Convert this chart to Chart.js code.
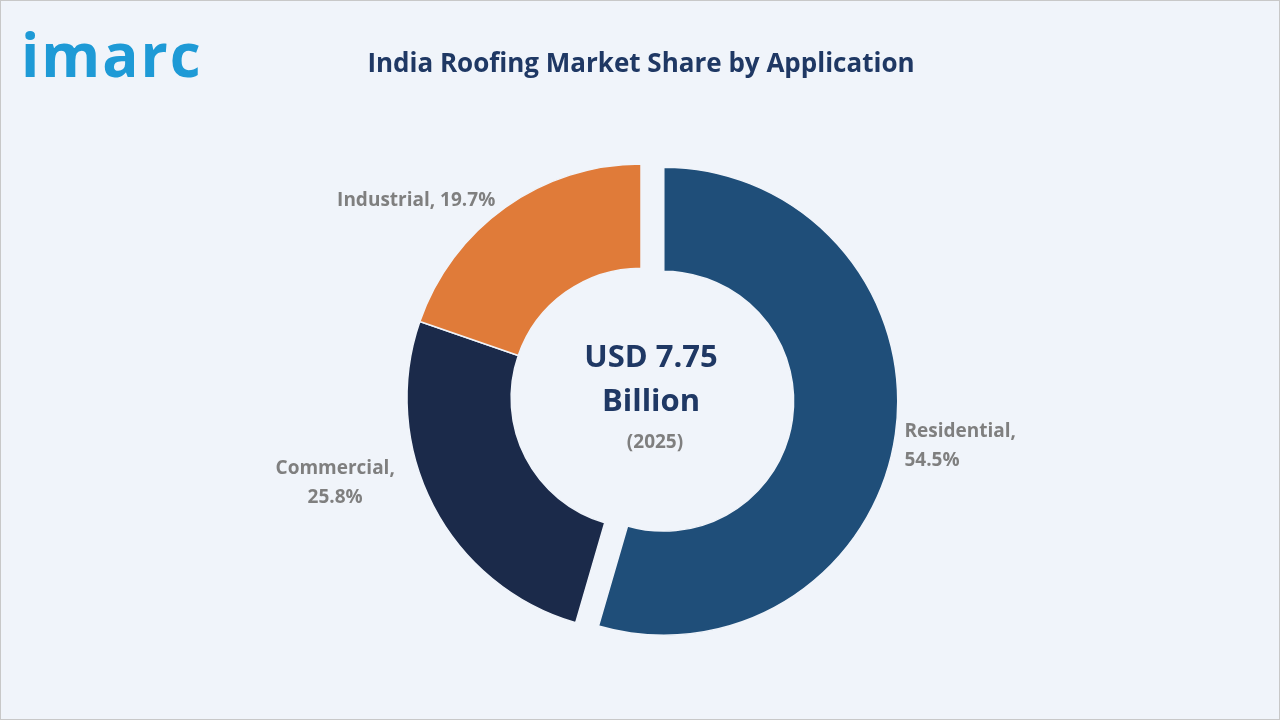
<!DOCTYPE html>
<html>
<head>
<meta charset="utf-8">
<script src="https://cdn.jsdelivr.net/npm/chart.js@4"></script>
<style>
  body { margin: 0; background: #fff; }
  #wrap { position: relative; width: 1278px; height: 718px; border: 1px solid #c8c8c8; background: #f0f4fa; }
  #logo { position: absolute; left: 20px; top: 12px; font: bold 60px "Open Sans", sans-serif; color: #1e9ad6; letter-spacing: 2px; }
  #title { position: absolute; left: 0; width: 1280px; top: 43px; text-align: center; font: bold 26px "Open Sans", sans-serif; color: #1f3864; }
  canvas { position: absolute; left: 0; top: 0; }
</style>
</head>
<body>
<div id="wrap">
  <canvas id="pie" width="1280" height="720"></canvas>
  <div id="logo">imarc</div>
  <div id="title">India Roofing Market Share by Application</div>
</div>
<script>
// Chart values
const categories = ["Residential", "Commercial", "Industrial"];
const shares = [54.5, 25.8, 19.7];
const sliceColors = ["#1f4e79", "#1b2a4a", "#e07b39"];
const labelLines = [["Residential,", "54.5%"], ["Commercial,", "25.8%"], ["Industrial, 19.7%"]];
const centerLines = ["USD 7.75", "Billion", "(2025)"];
const explode = [23, 0, 0];

function shift(arc, i) {
    const mid = (arc.startAngle + arc.endAngle) / 2;
    return { dx: Math.cos(mid) * explode[i], dy: Math.sin(mid) * explode[i] };
}

const outsideLabels = {
    id: 'outsideLabels',
    afterDraw(chart) {
        const ctx = chart.ctx;
        const meta = chart.getDatasetMeta(0);
        ctx.save();
        ctx.font = 'bold 19px "Open Sans", sans-serif';
        ctx.fillStyle = '#7f7f7f';
        ctx.textBaseline = 'middle';
        meta.data.forEach((arc, i) => {
            const mid = (arc.startAngle + arc.endAngle) / 2;
            const s = shift(arc, i);
            const px = arc.x + s.dx + Math.cos(mid) * arc.outerRadius;
            const py = arc.y + s.dy + Math.sin(mid) * arc.outerRadius;
            const right = Math.cos(mid) > 0;
            const lines = labelLines[i];
            const multi = lines.length > 1;
            ctx.textAlign = right ? 'left' : (multi ? 'center' : 'right');
            const x = right ? px + 9 : (multi ? px - 98 : px - 10);
            const y0 = right ? py - 3 : (multi ? py - 37 : py - 7);
            lines.forEach((t, k) => ctx.fillText(t, x, y0 + k * 29));
        });
        // center text
        const cx = chart.chartArea.left + chart.chartArea.width / 2;
        const cy = chart.chartArea.top + chart.chartArea.height / 2;
        ctx.textAlign = 'center';
        ctx.fillStyle = '#1f3864';
        ctx.font = 'bold 31px "Open Sans", sans-serif';
        ctx.fillText(centerLines[0], cx + 10, cy - 40);
        ctx.fillText(centerLines[1], cx + 10, cy + 4);
        ctx.fillStyle = '#7f7f7f';
        ctx.font = 'bold 19px "Open Sans", sans-serif';
        ctx.fillText(centerLines[2], cx + 14, cy + 45);
        ctx.restore();
    }
};

const chart = new Chart(document.getElementById('pie').getContext('2d'), {
    type: 'doughnut',
    data: {
        labels: categories,
        datasets: [{
            data: shares,
            backgroundColor: sliceColors,
            borderColor: '#f0f4fa',
            borderWidth: 1.5
        }]
    },
    options: {
        responsive: false,
        animation: false,
        radius: 234,
        cutout: '55.5%',
        layout: { padding: { top: 100, bottom: 26 } },
        plugins: { legend: { display: false }, tooltip: { enabled: false } }
    },
    plugins: [outsideLabels]
});

// explode slices by translating their drawing
chart.getDatasetMeta(0).data.forEach((arc, i) => {
    const orig = arc.draw;
    arc.draw = function (ctx) {
        const s = shift(this, i);
        ctx.save();
        ctx.translate(s.dx, s.dy);
        orig.call(this, ctx);
        ctx.restore();
    };
});
chart.draw();
</script>
</body>
</html>
